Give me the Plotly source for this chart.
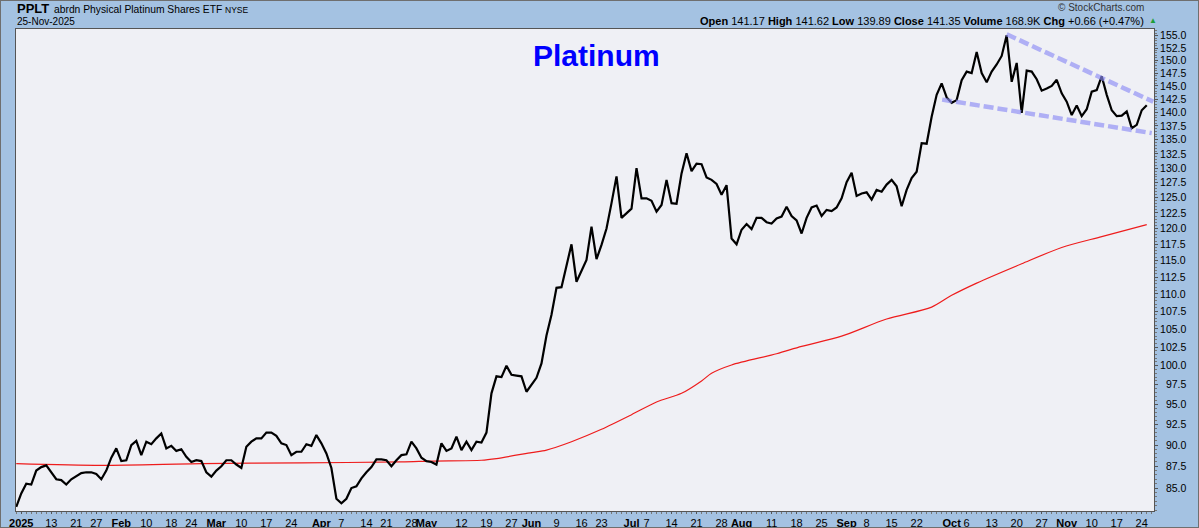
import numpy as np
import pandas as pd
import plotly.graph_objects as go

# ---------------- data ----------------
holidays = ["2025-01-01", "2025-01-09", "2025-01-20", "2025-02-17", "2025-04-18",
            "2025-05-26", "2025-06-19", "2025-07-04", "2025-09-01"]
start_date = "2024-12-31"
end_date = "2025-11-25"

close = [
    82.9, 84.4, 85.5, 85.4, 87.0, 87.4, 87.6, 86.8, 86.0, 85.9,
    85.4, 86.0, 86.4, 86.7, 86.8, 86.8, 86.6, 86.0, 87.0, 88.5,
    89.6, 88.1, 88.2, 90.0, 90.5, 88.8, 90.4, 90.1, 90.8, 91.4,
    89.6, 89.9, 89.3, 89.5, 88.6, 88.0, 88.2, 88.1, 86.8, 86.3,
    87.0, 87.5, 88.2, 88.2, 87.7, 87.3, 89.8, 90.4, 90.8, 90.8,
    91.5, 91.5, 91.1, 90.2, 90.0, 88.8, 89.2, 89.2, 90.1, 89.9,
    91.2, 90.2, 89.0, 87.3, 83.8, 83.3, 83.8, 85.0, 85.2, 86.1,
    86.8, 87.4, 88.3, 88.3, 88.2, 87.5, 88.2, 88.8, 88.9, 90.4,
    89.6, 88.5, 88.1, 88.0, 87.7, 90.2, 89.3, 89.6, 91.0, 89.4,
    90.4, 89.4, 90.4, 90.3, 91.5, 96.4, 98.6, 98.5, 100.0, 98.8,
    98.7, 98.6, 96.6, 97.5, 98.4, 100.3, 104.1, 107.0, 110.9, 111.0,
    114.2, 117.5, 111.8, 113.5, 115.1, 120.3, 115.2, 117.4, 120.0, 124.1,
    128.6, 121.7, 122.4, 123.2, 130.0, 124.9, 124.9, 124.5, 122.7, 123.8,
    128.0, 124.1, 124.0, 129.1, 132.6, 129.5, 130.8, 130.7, 128.4, 128.0,
    127.3, 125.5, 127.1, 118.4, 117.5, 119.8, 120.7, 119.9, 121.7, 121.7,
    121.0, 120.8, 121.6, 121.9, 123.5, 122.0, 121.3, 119.2, 121.7, 123.4,
    123.7, 122.0, 123.0, 122.8, 123.4, 124.9, 127.6, 129.2, 125.3, 125.7,
    125.9, 124.7, 126.3, 126.0, 127.2, 128.0, 126.9, 123.6, 126.3, 128.3,
    129.4, 134.4, 134.3, 139.2, 143.3, 145.5, 142.8, 141.8, 142.3, 146.1,
    147.8, 147.5, 151.7, 147.5, 145.7, 147.8, 149.2, 150.9, 155.1, 145.8,
    149.5, 139.9, 148.0, 147.8, 146.3, 144.1, 144.5, 145.0, 146.2, 143.6,
    142.0, 139.5, 141.3, 139.3, 140.6, 143.9, 144.2, 146.9, 143.3, 140.4,
    139.3, 139.4, 140.2, 137.1, 137.7, 140.4, 141.35,
]

# 200-day moving average, read at sample dates
ma_dates = ["2024-12-31", "2025-01-28", "2025-02-26", "2025-03-26", "2025-04-24",
            "2025-05-02", "2025-05-16", "2025-05-21", "2025-06-02", "2025-06-05",
            "2025-06-12", "2025-06-23", "2025-07-01", "2025-07-09", "2025-07-16",
            "2025-07-22", "2025-07-24", "2025-07-30", "2025-08-12", "2025-08-19",
            "2025-08-29", "2025-09-12", "2025-09-25", "2025-10-01", "2025-10-08",
            "2025-10-21", "2025-10-31", "2025-11-12", "2025-11-25"]
ma_values = [87.8, 87.6, 87.8, 87.9, 88.0,
             88.1, 88.2, 88.4, 89.1, 89.4,
             90.4, 91.9, 93.7, 95.3, 96.4,
             98.0, 99.0, 100.1, 101.6, 102.6,
             104.0, 106.4, 108.1, 109.8, 111.6,
             114.5, 117.0, 118.7, 120.6]

# hand-drawn trend lines (x in trading-day units, value)
upper_trend_x = [198, 227.3]
upper_trend_y = [155.3, 142.0]
lower_trend_x = [185.1, 227.0]
lower_trend_y = [142.4, 136.2]

tick_dates = ["2025-01-02", "2025-01-13", "2025-01-21", "2025-01-27", "2025-02-03", "2025-02-10",
              "2025-02-18", "2025-02-24", "2025-03-03", "2025-03-10", "2025-03-17", "2025-03-24",
              "2025-04-01", "2025-04-07", "2025-04-14", "2025-04-21", "2025-04-28", "2025-05-01",
              "2025-05-12", "2025-05-19", "2025-05-27", "2025-06-02", "2025-06-09", "2025-06-16",
              "2025-06-23", "2025-07-01", "2025-07-07", "2025-07-14", "2025-07-21", "2025-07-28",
              "2025-08-01", "2025-08-11", "2025-08-18", "2025-08-25", "2025-09-02", "2025-09-08",
              "2025-09-15", "2025-09-22", "2025-10-01", "2025-10-06", "2025-10-13", "2025-10-20",
              "2025-10-27", "2025-11-03", "2025-11-10", "2025-11-17", "2025-11-24"]
tick_text = ["<b>2025</b>", "13", "21", "27", "<b>Feb</b>", "10", "18", "24", "<b>Mar</b>", "10",
             "17", "24", "<b>Apr</b>", "7", "14", "21", "28", "<b>May</b>", "12", "19", "27",
             "<b>Jun</b>", "9", "16", "23", "<b>Jul</b>", "7", "14", "21", "28", "<b>Aug</b>",
             "11", "18", "25", "<b>Sep</b>", "8", "15", "22", "<b>Oct</b>", "6", "13", "20", "27",
             "<b>Nov</b>", "10", "17", "24"]

y_ticks = [85.0, 87.5, 90.0, 92.5, 95.0, 97.5, 100.0, 102.5, 105.0, 107.5, 110.0, 112.5,
           115.0, 117.5, 120.0, 122.5, 125.0, 127.5, 130.0, 132.5, 135.0, 137.5, 140.0,
           142.5, 145.0, 147.5, 150.0, 152.5, 155.0]

# ---------------- build ----------------
days = pd.bdate_range(start_date, end_date)
days = days[~days.isin(pd.to_datetime(holidays))]
pos = {d.strftime("%Y-%m-%d"): i for i, d in enumerate(days)}
x_idx = list(range(len(close)))
ma_x = [pos[d] for d in ma_dates]
tick_x = [pos[d] for d in tick_dates]
y_ticktext = [("\u2007" if v < 100 else "") + f"{v:.1f}" for v in y_ticks]

W, H = 1199, 528
L, R, T, B = 16, 45, 29, 17
PW, PH = W - L - R, H - T - B
FONT = "Arial, Liberation Sans, sans-serif"


def px(x):
    return (x - L) / PW


def py(y):
    return (H - B - y) / PH


fig = go.Figure()
fig.add_trace(go.Scatter(x=ma_x, y=ma_values, mode="lines",
                         line=dict(color="#ee1c1c", width=1.2, shape="spline", smoothing=0.8),
                         hoverinfo="skip"))
fig.add_trace(go.Scatter(x=x_idx, y=close, mode="lines",
                         line=dict(color="#000000", width=2.2)))
for tx, ty in ((upper_trend_x, upper_trend_y), (lower_trend_x, lower_trend_y)):
    fig.add_trace(go.Scatter(x=tx, y=ty, mode="lines",
                             line=dict(color="rgba(140,140,245,0.65)", width=4.5, dash="10px,4px"),
                             hoverinfo="skip"))

minor_y = list(np.arange(82.5, 157.0, 0.5))

fig.update_layout(
    width=W, height=H,
    margin=dict(l=L, r=R, t=T, b=B, pad=0, autoexpand=False),
    paper_bgcolor="#a4c2e2",
    plot_bgcolor="#eff0f5",
    showlegend=False,
    font=dict(family=FONT, color="#000000", size=11),
    xaxis=dict(
        range=[-0.05, 227.45], showgrid=False, zeroline=False, automargin=False,
        tickmode="array", tickvals=tick_x, ticktext=tick_text, tickangle=0,
        tickfont=dict(size=11, family=FONT), ticks="outside", ticklen=2, tickcolor="#555",
        showline=True, linecolor="#555", linewidth=1, mirror=True,
        minor=dict(ticks="outside", ticklen=2, tickcolor="#777", tickmode="linear", tick0=0, dtick=1),
    ),
    yaxis=dict(
        type="log", side="right", automargin=False,
        range=[np.log10(82.45), np.log10(156.4)],
        showgrid=False, zeroline=False,
        tickmode="array", tickvals=y_ticks, ticktext=y_ticktext,
        tickfont=dict(size=10.5, family=FONT), ticks="outside", ticklen=3, tickcolor="#555",
        showline=True, linecolor="#555", linewidth=1, mirror=True,
        minor=dict(ticks="outside", ticklen=2, tickcolor="#777", tickmode="array", tickvals=minor_y),
    ),
)

ann = [
    dict(text="<b>PPLT</b>", x=px(15), y=py(9), xanchor="left", yanchor="middle",
         font=dict(size=13, family=FONT, color="#000")),
    dict(text="abrdn Physical Platinum Shares ETF", x=px(52), y=py(9.5), xanchor="left", yanchor="middle",
         font=dict(size=10.3, family=FONT, color="#000")),
    dict(text="NYSE", x=px(223), y=py(10), xanchor="left", yanchor="middle",
         font=dict(size=8.5, family=FONT, color="#000")),
    dict(text="25-Nov-2025", x=px(15), y=py(21), xanchor="left", yanchor="middle",
         font=dict(size=10, family=FONT, color="#000")),
    dict(text="\u00a9 StockCharts.com", x=px(1146), y=py(8), xanchor="right", yanchor="middle",
         font=dict(size=10, family=FONT, color="#333")),
    dict(text="<b>Open</b> 141.17 <b>High</b> 141.62 <b>Low</b> 139.89 <b>Close</b> 141.35 "
              "<b>Volume</b> 168.9K <b>Chg</b> +0.66 (+0.47%)",
         x=px(1146), y=py(21), xanchor="right", yanchor="middle",
         font=dict(size=11, family=FONT, color="#000")),
    dict(text="\u25b2", x=px(1147), y=py(20), xanchor="left", yanchor="middle",
         font=dict(size=8, family=FONT, color="#1e9e3a")),
    dict(text="<b>Platinum</b>", x=px(596), y=py(55), xanchor="center", yanchor="middle",
         font=dict(size=30, family=FONT, color="#0000ff")),
]
for a in ann:
    a.update(xref="paper", yref="paper", showarrow=False)
fig.update_layout(annotations=ann)

fig.add_shape(type="rect", xref="paper", yref="paper",
              x0=px(0), x1=px(W), y0=py(H), y1=py(0),
              line=dict(color="#6f6f6f", width=2), fillcolor="rgba(0,0,0,0)", layer="above")

fig.write_html("out.html", config={"displayModeBar": False},
               post_script="document.body.style.margin='0';document.body.style.overflow='hidden';")
